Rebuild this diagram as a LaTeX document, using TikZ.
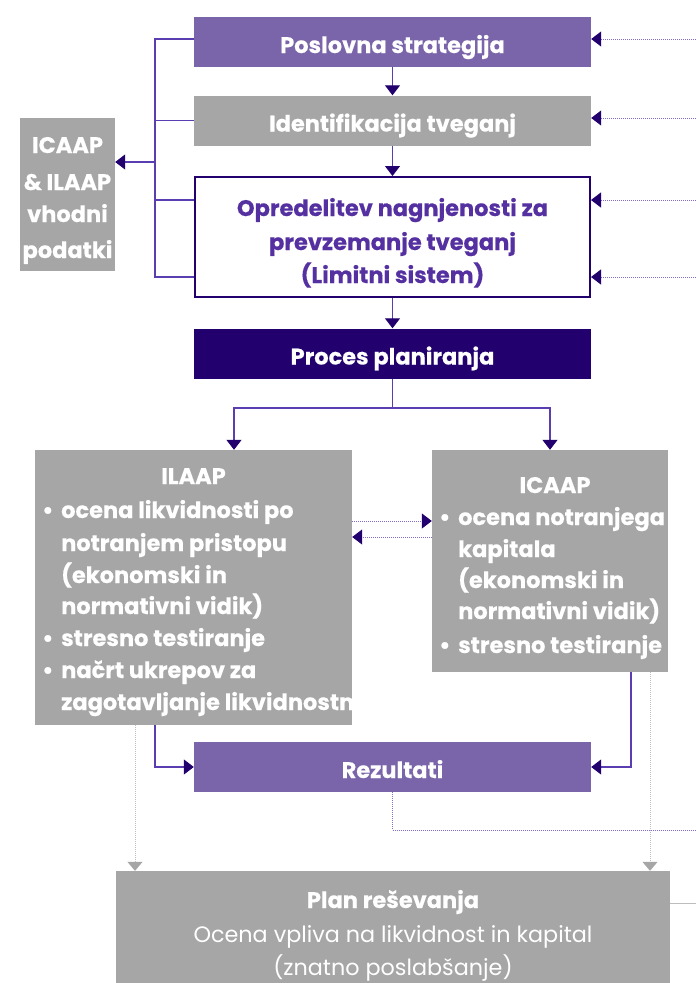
\documentclass[tikz,border=0pt]{standalone}
\usepackage{fontspec}
\setmainfont{Poppins}
\newfontfamily\heavy{Poppins}[FakeBold=0.4]
\usetikzlibrary{arrows.meta,calc}
\definecolor{pmid}{HTML}{7B65AA}
\definecolor{pgray}{HTML}{A6A6A7}
\definecolor{pdark}{HTML}{22006E}
\definecolor{ptext}{HTML}{5530A0}
\definecolor{pline}{HTML}{5A3DB0}
\definecolor{dgray}{HTML}{BDBDBD}
\tikzset{
  box/.style={rectangle, inner sep=0pt, minimum width=397pt, minimum height=50pt,
    font=\heavy\bfseries\fontsize{22.5}{28}\selectfont, text=white,
    text height=22pt, text depth=0pt},
  gbox/.style={rectangle, inner sep=0pt, fill=pgray},
  conn/.style={draw=pline, line width=1.1pt},
  arr/.style={conn, -{Triangle[length=10pt,width=15pt,fill=pdark,color=pdark]}},
  dotarr/.style={draw=pline!75, line width=1pt, dash pattern=on 1pt off 1pt,
    -{Triangle[length=10pt,width=15pt,fill=pdark,color=pdark]}},
  dotline/.style={draw=pline!75, line width=1pt, dash pattern=on 1pt off 1pt},
  gdotarr/.style={draw=dgray, line width=1pt, dash pattern=on 1pt off 1pt,
    -{Triangle[length=9pt,width=15pt,fill=pgray,color=pgray]}},
  tl/.style={anchor=base west, inner sep=0pt, text=white, font=\heavy\bfseries\fontsize{22.5}{28}\selectfont},
  tc/.style={anchor=base, inner sep=0pt, text=white, font=\heavy\bfseries\fontsize{22.5}{28}\selectfont},
  tr/.style={anchor=base, inner sep=0pt, text=white, font=\fontsize{22.3}{28}\selectfont},
}
\begin{document}
\begin{tikzpicture}[x=1pt,y=-1pt]
\useasboundingbox[fill=white] (0,0) rectangle (696,983);
% main boxes
\node[box, fill=pmid] (ps) at (392.5,42) {Poslovna strategija};
\node[box, fill=pgray] (it) at (392.5,120.5) {Identifikacija tveganj};
\node[box, draw=pdark, line width=2pt, minimum width=395pt, minimum height=120pt] (op) at (392.5,237) {};
\node[tc, text=ptext] (op1) at (392.5,216) {Opredelitev nagnjenosti za};
\node[tc, text=ptext] (op2) at (392.5,250) {prevzemanje tveganj};
\node[tc, text=ptext] (op3) at (392.5,283) {(Limitni sistem)};
\node[box, fill=pdark] (pp) at (392.5,353.5) {Proces planiranja};
\node[gbox, minimum width=95pt, minimum height=153pt] (in) at (67.5,194.5) {};
\node[tc] (in1) at (67.5,153) {ICAAP};
\node[tc] (in2) at (67.5,190) {\&~ILAAP};
\node[tc] (in3) at (67.5,222) {vhodni};
\node[tc] (in4) at (67.5,258) {podatki};
\node[gbox, minimum width=317pt, minimum height=275pt] (il) at (193.5,587.5) {};
\node[gbox, minimum width=236pt, minimum height=222pt] (ic) at (550,561) {};
\node[box, fill=pmid] (rz) at (392.5,767) {Rezultati};
\node[gbox, minimum width=554pt, minimum height=112pt] (pl) at (393,927) {};
\node[tc] (pl1) at (393,908) {Plan reševanja};
\node[tr] (pl2) at (393,942) {Ocena vpliva na likvidnost in kapital};
\node[tr] (pl3) at (393,975) {(znatno poslabšanje)};
% ILAAP text
\begin{scope}
\clip (il.north west) rectangle (il.south east);
\node[tc] (ilt) at (193.5,484) {ILAAP};
\node[tl] (il1b) at (42,518) {\textbullet};
\node[tl] (il1) at (61,518) {ocena likvidnosti po};
\node[tl] (il2) at (61,551) {notranjem pristopu};
\node[tl] (il3) at (61,583) {(ekonomski in};
\node[tl] (il4) at (61,614) {normativni vidik)};
\node[tl] (il5b) at (42,646) {\textbullet};
\node[tl] (il5) at (61,646) {stresno testiranje};
\node[tl] (il6b) at (42,678) {\textbullet};
\node[tl] (il6) at (61,678) {načrt ukrepov za};
\node[tl] (il7) at (61,710) {zagotavljanje likvidnostni};
\end{scope}
% ICAAP text
\node[tc] (ict) at (555,493) {ICAAP};
\node[tl] (ic1b) at (439,525) {\textbullet};
\node[tl] (ic1) at (458,525) {ocena notranjega};
\node[tl] (ic2) at (458,557) {kapitala};
\node[tl] (ic3) at (458,588) {(ekonomski in};
\node[tl] (ic4) at (458,619) {normativni vidik)};
\node[tl] (ic5b) at (439,653) {\textbullet};
\node[tl] (ic5) at (458,653) {stresno testiranje};
% left bracket
\coordinate (bt) at (155,39);
\coordinate (bm) at (155,162);
\coordinate (bb) at (155,277);
\coordinate (b3) at (155,200);
\draw[conn] (ps.west |- bt) -- (bt) -- (bb) -- (op.west |- bb);
\draw[conn] (it.west) -- (it.west -| bt);
\draw[conn] (b3) -- (op.west |- b3);
\draw[arr] (bm) -- (in.east |- bm);
% down arrows
\draw[arr] (ps) -- (it);
\draw[arr] (it) -- (op);
\draw[arr] (op) -- (pp);
\coordinate (sp) at (392.5,408);
\coordinate (ila) at (234,408);
\draw[conn] (pp.south) -- (sp);
\draw[arr] (sp) -- (ila) -- (ila |- il.north);
\draw[arr] (sp) -| (ic.north);
% right dotted inputs
\coordinate (r1) at (696,39);
\coordinate (r2) at (696,118);
\coordinate (r3) at (696,200);
\coordinate (r4) at (696,277);
\draw[dotarr] (r1) -- (r1 -| ps.east);
\draw[dotarr] (r2) -- (r2 -| it.east);
\draw[dotarr] (r3) -- (r3 -| op.east);
\draw[dotarr] (r4) -- (r4 -| op.east);
% between ILAAP and ICAAP
\coordinate (m1) at (392,521);
\coordinate (m2) at (392,537);
\draw[dotarr] (m1 -| il.east) -- (m1 -| ic.west);
\draw[dotarr] (m2 -| ic.west) -- (m2 -| il.east);
% to Rezultati
\coordinate (lb) at (155,725);
\coordinate (rb) at (631,672);
\draw[arr] (lb) |- (rz.west);
\draw[arr] (rb) |- (rz.east);
\coordinate (rzo) at (696,830);
\draw[dotline] (rz.south) |- (rzo);
% gray dotted to Plan
\coordinate (g1) at (135,725);
\coordinate (g2) at (650,672);
\draw[gdotarr] (g1) -- (g1 |- pl.north);
\draw[gdotarr] (g2) -- (g2 |- pl.north);
\coordinate (po) at (696,903);
\draw[dgray, line width=0.8pt] (po -| pl.east) -- (po);
\end{tikzpicture}
\end{document}
